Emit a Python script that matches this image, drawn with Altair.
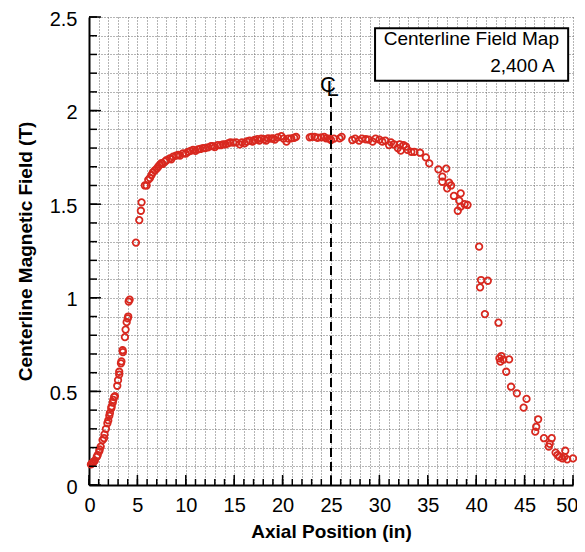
import altair as alt
import pandas as pd

# ---- data ----
axial_in = [0.2, 0.3, 0.4, 0.5, 0.6, 0.8, 0.9, 1.06, 1.1, 1.21, 1.4, 1.55, 1.6, 1.75, 1.9, 1.99,
            2.1, 2.16, 2.3, 2.34, 2.45, 2.51, 2.6, 2.68, 2.92, 3.0, 3.12, 3.12, 3.3, 3.35, 3.47, 3.5,
            3.71, 3.78, 3.89, 4.05, 4.0, 4.1, 4.2, 4.85, 5.19, 5.36, 5.43, 5.77, 5.95, 6.12, 6.3,
            6.46, 6.6, 6.8, 7.0, 7.15, 7.3, 7.49, 7.6, 7.84, 8.0, 8.35, 8.5, 8.69, 9.0, 9.21, 9.4,
            9.72, 10.0, 10.24, 10.5, 10.75, 11.0, 11.27, 11.5, 11.78, 12.0, 12.3, 12.6, 12.8, 13.0,
            13.3, 13.6, 13.85, 14.1, 14.36, 14.6, 14.9, 15.2, 15.57, 15.8, 16.08, 16.3, 16.6, 16.9,
            17.1, 17.4, 17.6, 17.8, 18.1, 18.3, 18.5, 18.8, 19.0, 19.2, 19.5, 19.87, 20.1, 20.4,
            20.6, 20.9, 21.2, 21.4, 22.8, 23.0, 23.3, 23.6, 24.0, 24.3, 24.5, 24.8, 25.0, 25.3,
            25.9, 26.1, 27.2, 27.5, 27.9, 28.2, 28.6, 28.9, 29.3, 29.6, 30.0, 30.3, 30.6, 31.0,
            31.2, 31.5, 31.9, 32.1, 32.2, 32.5, 32.75, 32.9, 33.3, 33.6, 34.2, 34.8, 35.15, 36.1,
            36.5, 36.5, 36.9, 37.0, 37.2, 37.4, 37.7, 38.1, 38.25, 38.4, 38.4, 38.8, 39.1, 40.3,
            40.4, 40.5, 41.2, 40.9, 42.3, 42.4, 42.5, 42.6, 42.8, 43.4, 43.1, 43.6, 44.2, 45.2,
            44.9, 46.4, 46.2, 46.1, 47.0, 47.8, 47.5, 47.6, 48.2, 48.4, 49.2, 48.6, 48.9, 49.4,
            50.0, 49.1]
field_T = [0.11, 0.115, 0.12, 0.125, 0.13, 0.15, 0.16, 0.18, 0.19, 0.205, 0.24, 0.25, 0.27, 0.30,
           0.33, 0.345, 0.37, 0.385, 0.41, 0.42, 0.44, 0.455, 0.47, 0.475, 0.53, 0.56, 0.59, 0.605,
           0.65, 0.66, 0.72, 0.71, 0.79, 0.83, 0.87, 0.90, 0.89, 0.98, 0.99, 1.295, 1.415, 1.465,
           1.51, 1.60, 1.60, 1.63, 1.64, 1.656, 1.67, 1.68, 1.69, 1.70, 1.71, 1.72, 1.715, 1.727,
           1.735, 1.745, 1.74, 1.754, 1.76, 1.763, 1.76, 1.772, 1.77, 1.78, 1.785, 1.79, 1.785,
           1.793, 1.795, 1.80, 1.80, 1.804, 1.81, 1.81, 1.805, 1.816, 1.815, 1.82, 1.82, 1.825,
           1.83, 1.829, 1.83, 1.82, 1.83, 1.825, 1.835, 1.84, 1.835, 1.843, 1.848, 1.84, 1.85,
           1.847, 1.84, 1.852, 1.85, 1.852, 1.845, 1.857, 1.864, 1.85, 1.834, 1.85, 1.852, 1.855,
           1.86, 1.857, 1.86, 1.86, 1.855, 1.857, 1.86, 1.852, 1.85, 1.843, 1.85, 1.852, 1.86,
           1.843, 1.85, 1.84, 1.85, 1.847, 1.845, 1.834, 1.85, 1.845, 1.834, 1.84, 1.816, 1.83,
           1.82, 1.80, 1.82, 1.786, 1.815, 1.807, 1.79, 1.78, 1.78, 1.775, 1.75, 1.718, 1.686,
           1.647, 1.62, 1.69, 1.585, 1.615, 1.60, 1.544, 1.465, 1.519, 1.558, 1.487, 1.50, 1.496,
           1.273, 1.056, 1.095, 1.091, 0.913, 0.867, 0.677, 0.659, 0.689, 0.67, 0.671, 0.605,
           0.525, 0.49, 0.46, 0.413, 0.351, 0.311, 0.285, 0.25, 0.25, 0.205, 0.22, 0.173, 0.16,
           0.183, 0.151, 0.142, 0.137, 0.142, 0.15]

x_grid = list(range(0, 51))
x_major = list(range(0, 51, 5))
y_grid = [round(i * 0.1, 1) for i in range(26)]
y_major = [round(i * 0.5, 1) for i in range(6)]

centerline_x = [25]
centerline_top = [2.07]
legend_box = {"x1": [29.55], "x2": [49.5], "y1": [2.44], "y2": [2.16]}
legend_title = "Centerline Field Map"
legend_current = "2,400 A"

FONT = "Liberation Sans Narrow, Arial Narrow, Liberation Sans, Arial, sans-serif"
RED = "#d8281f"
W, H = 484, 468
XT = "Axial Position (in)"
YT = "Centerline Magnetic Field (T)"

xs = alt.Scale(domain=[0, 50], nice=False, zero=False)
ys = alt.Scale(domain=[0, 2.5], nice=False, zero=False)

x_axis = alt.Axis(values=x_grid, grid=True, ticks=False,
                  labelExpr="datum.value % 5 === 0 ? datum.label : ''",
                  labelOverlap=False, labelFlush=True, labelFlushOffset=5,
                  labelPadding=10, titlePadding=7)
y_axis = alt.Axis(values=y_grid, grid=True, ticks=False, format="~g",
                  labelExpr="abs(round(datum.value*10) % 5) === 0 ? datum.label : ''",
                  labelOverlap=False, labelFlush=False, labelPadding=12, labelOffset=2,
                  titlePadding=14)


def X(f):
    return alt.X(f, scale=xs, axis=x_axis, title=XT)


def Y(f):
    return alt.Y(f, scale=ys, axis=y_axis, title=YT)


df = pd.DataFrame({"x": axial_in, "y": field_T})

points = alt.Chart(df).mark_point(
    shape="circle", filled=False, color=RED, size=42, strokeWidth=1.8, opacity=1
).encode(x=X("x:Q"), y=Y("y:Q"))


def xtick(vals, length):
    return alt.Chart(pd.DataFrame({"x": vals})).mark_rule(color="black", strokeWidth=1.5).encode(
        x=X("x:Q"), y=alt.value(H), y2=alt.value(H - length))


def ytick(vals, length):
    return alt.Chart(pd.DataFrame({"y": vals})).mark_rule(color="black", strokeWidth=1.5).encode(
        y=Y("y:Q"), x=alt.value(0), x2=alt.value(length))


cl_df = pd.DataFrame({"x": centerline_x, "y0": [0], "y1": centerline_top})
cline = alt.Chart(cl_df).mark_rule(color="black", strokeWidth=2, strokeDash=[9, 5]).encode(
    x=X("x:Q"), y=Y("y0:Q"), y2="y1:Q")

c_txt = alt.Chart(cl_df).mark_text(text="C", font=FONT, fontSize=22, color="black",
                                   dx=-3, align="center", baseline="middle").encode(
    x=X("x:Q"), y=alt.value(H - 2.137 * H / 2.5))
l_txt = alt.Chart(cl_df).mark_text(text="L", font=FONT, fontSize=22, color="black",
                                   dx=1.5, align="center", baseline="middle").encode(
    x=X("x:Q"), y=alt.value(H - 2.115 * H / 2.5))

lb = pd.DataFrame(legend_box)
shadow = alt.Chart(lb).mark_rect(fill="black", xOffset=2, yOffset=2).encode(
    x=X("x1:Q"), x2="x2:Q", y=Y("y1:Q"), y2="y2:Q")
box = alt.Chart(lb).mark_rect(fill="white", stroke="black", strokeWidth=2).encode(
    x=X("x1:Q"), x2="x2:Q", y=Y("y1:Q"), y2="y2:Q")

lt_df = pd.DataFrame({"x": [39.5, 48.1], "y": [2.38, 2.24], "t": [legend_title, legend_current]})
lt1 = alt.Chart(lt_df.iloc[[0]]).mark_text(font=FONT, fontSize=19, color="black",
                                           align="center", baseline="middle").encode(
    x=X("x:Q"), y=Y("y:Q"), text="t:N")
lt2 = alt.Chart(lt_df.iloc[[1]]).mark_text(font=FONT, fontSize=19, color="black",
                                           align="right", baseline="middle").encode(
    x=X("x:Q"), y=Y("y:Q"), text="t:N")

chart = alt.layer(
    points, xtick(x_grid, 6), xtick(x_major, 10), ytick(y_grid, 8), ytick(y_major, 12),
    cline, c_txt, l_txt, shadow, box, lt1, lt2
).properties(
    width=W, height=H,
    autosize=alt.AutoSizeParams(type="none"),
    padding={"left": 81, "top": 9, "right": 4, "bottom": 59},
).configure_view(stroke=None).configure_axis(
    domainColor="black", domainWidth=2,
    gridColor="#6a6a6a", gridDash=[1, 2], gridWidth=1,
    labelFont=FONT, labelFontSize=20, labelColor="black",
    titleFont="Liberation Sans, Arial, sans-serif", titleFontSize=19, titleFontWeight="bold",
    titleColor="black",
)

chart.save("out.html", embed_options={"renderer": "svg", "actions": False})
